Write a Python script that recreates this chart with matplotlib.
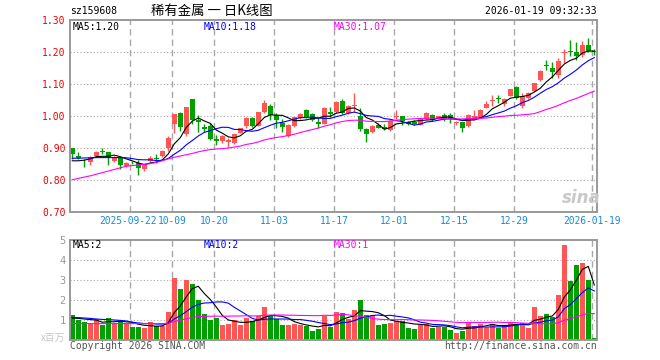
import matplotlib
matplotlib.use('Agg')
import matplotlib.pyplot as plt
import matplotlib.transforms as mtransforms
import numpy as np
import pandas as pd

# daily K data, 2025-09-08 .. 2026-01-19
opens = [0.899, 0.875, 0.857, 0.856, 0.875, 0.892, 0.888, 0.860, 0.870, 0.843,
         0.857, 0.852, 0.833, 0.860, 0.870, 0.874, 0.900, 0.974, 1.008, 0.944,
         1.053, 0.988, 0.966, 0.969, 0.927, 0.922, 0.920, 0.917, 0.946, 0.968,
         0.994, 0.970, 1.011, 1.032, 1.004, 0.977, 0.938, 0.968, 0.995, 1.019,
         1.006, 0.981, 0.975, 1.012, 1.011, 1.048, 1.009, 1.030, 1.000, 0.959,
         0.951, 0.973, 0.966, 0.957, 0.996, 0.999, 0.981, 0.980, 0.973, 0.992,
         1.004, 0.992, 1.002, 1.002, 0.978, 0.980, 0.968, 0.989, 0.996, 1.026,
         1.048, 1.057, 1.038, 1.064, 1.090, 1.030, 1.056, 1.079, 1.112, 1.160,
         1.151, 1.129, 1.198, 1.204, 1.200, 1.190, 1.223, 1.204]
highs = [0.900, 0.887, 0.866, 0.875, 0.890, 0.899, 0.889, 0.876, 0.873, 0.857,
         0.860, 0.861, 0.851, 0.874, 0.882, 0.894, 0.936, 1.007, 1.013, 1.029,
         1.053, 1.002, 0.974, 0.977, 0.940, 0.941, 0.930, 0.944, 0.964, 0.996,
         0.996, 1.013, 1.051, 1.038, 1.008, 0.991, 0.974, 0.998, 1.010, 1.022,
         1.008, 0.993, 1.029, 1.027, 1.046, 1.052, 1.033, 1.072, 1.024, 0.963,
         0.973, 0.977, 0.974, 0.989, 1.018, 1.000, 0.985, 0.988, 0.994, 1.011,
         1.007, 1.001, 1.009, 1.009, 0.985, 0.982, 1.006, 1.020, 1.021, 1.048,
         1.066, 1.066, 1.055, 1.085, 1.093, 1.073, 1.074, 1.104, 1.145, 1.176,
         1.170, 1.181, 1.208, 1.236, 1.231, 1.234, 1.245, 1.210]
lows = [0.865, 0.865, 0.841, 0.848, 0.872, 0.880, 0.848, 0.857, 0.833, 0.841,
        0.850, 0.817, 0.827, 0.857, 0.853, 0.871, 0.890, 0.947, 0.954, 0.937,
        0.975, 0.951, 0.950, 0.925, 0.909, 0.917, 0.904, 0.912, 0.948, 0.964,
        0.966, 0.968, 1.008, 0.988, 0.962, 0.951, 0.935, 0.965, 0.990, 0.995,
        0.985, 0.962, 0.974, 0.996, 1.009, 1.006, 1.006, 1.013, 0.953, 0.920,
        0.947, 0.962, 0.956, 0.954, 0.990, 0.973, 0.971, 0.971, 0.971, 0.990,
        0.983, 0.990, 0.983, 0.978, 0.972, 0.950, 0.966, 0.988, 0.994, 1.024,
        1.030, 1.041, 1.032, 1.062, 1.052, 1.026, 1.054, 1.078, 1.108, 1.143,
        1.119, 1.119, 1.166, 1.186, 1.176, 1.183, 1.199, 1.190]
closes = [0.881, 0.870, 0.855, 0.871, 0.888, 0.886, 0.871, 0.873, 0.846, 0.854,
          0.855, 0.838, 0.849, 0.870, 0.866, 0.891, 0.931, 1.006, 0.967, 1.027,
          0.988, 0.981, 0.960, 0.929, 0.923, 0.938, 0.925, 0.943, 0.962, 0.994,
          0.968, 1.012, 1.041, 1.004, 0.988, 0.965, 0.973, 0.996, 1.007, 0.998,
          0.989, 0.976, 1.026, 1.007, 1.045, 1.009, 1.031, 1.034, 0.958, 0.944,
          0.970, 0.964, 0.958, 0.983, 1.001, 0.984, 0.976, 0.976, 0.992, 1.009,
          0.989, 0.999, 0.994, 0.992, 0.981, 0.963, 1.004, 0.999, 1.019, 1.039,
          1.051, 1.053, 1.052, 1.083, 1.056, 1.061, 1.071, 1.103, 1.142, 1.156,
          1.139, 1.173, 1.201, 1.200, 1.189, 1.221, 1.204, 1.200]
# volume, millions
vols = [1.27, 0.98, 0.88, 0.80, 1.05, 0.73, 1.12, 0.85, 0.97, 0.87,
        0.63, 0.63, 0.58, 0.88, 0.72, 0.72, 1.42, 3.12, 2.53, 2.98,
        2.82, 1.98, 1.32, 1.02, 1.12, 0.73, 0.82, 1.02, 0.73, 1.12,
        0.93, 1.18, 1.67, 1.22, 1.07, 0.75, 0.77, 0.78, 0.75, 0.72,
        0.47, 0.55, 1.18, 0.63, 1.42, 1.37, 1.07, 1.52, 1.98, 1.27,
        1.27, 0.77, 0.82, 0.87, 0.97, 0.97, 0.62, 0.57, 0.77, 0.82,
        0.62, 0.67, 0.67, 0.52, 0.37, 0.47, 0.92, 0.72, 0.82, 0.62,
        0.82, 0.62, 0.72, 0.92, 0.82, 0.87, 0.62, 1.67, 1.22, 1.32,
        1.17, 2.27, 4.77, 2.97, 3.77, 3.87, 3.02, 0.12]

# moving average values before the window is full
ma5_head = [0.860, 0.860, 0.862, 0.866]
ma10_head = [0.868, 0.868, 0.869, 0.869, 0.870, 0.870, 0.870, 0.870, 0.870]
ma30_head = [0.801, 0.805, 0.809, 0.813, 0.818, 0.823, 0.828, 0.833, 0.838, 0.843,
             0.845, 0.847, 0.849, 0.851, 0.855, 0.860, 0.866, 0.871, 0.875, 0.879,
             0.883, 0.888, 0.892, 0.895, 0.897, 0.898, 0.900, 0.903, 0.906]
vma5_head = [1.10, 1.08, 1.05, 1.02]
vma10_head = [1.13, 1.12, 1.10, 1.08, 1.05, 1.03, 1.02, 1.00, 0.98]
vma30_head = [0.82, 0.82, 0.82, 0.82, 0.82, 0.82, 0.82, 0.82, 0.82, 0.82,
              0.82, 0.82, 0.82, 0.82, 0.82, 0.82, 0.84, 0.92, 0.99, 1.06,
              1.13, 1.17, 1.18, 1.19, 1.19, 1.19, 1.19, 1.20, 1.20]

date_idx = [10, 17, 24, 34, 44, 54, 64, 74, 87]
date_labels = ['2025-09-22', '10-09', '10-20', '11-03', '11-17',
               '12-01', '12-15', '12-29', '2026-01-19']
price_ticks = [0.70, 0.80, 0.90, 1.00, 1.10, 1.20, 1.30]
vol_ticks = [1, 2, 3, 4, 5]

RED = '#ff5555'
GREEN = '#00a000'
GRID = '#a8a8a8'
FRAME = '#999999'
MONO = 'DejaVu Sans Mono'
CJK = ['Noto Sans CJK SC', 'DejaVu Sans']


def moving(vals, n, head):
    s = pd.Series(vals, dtype=float).rolling(n).mean().values
    s[:n - 1] = head
    return s


o = np.array(opens)
c = np.array(closes)
x = np.arange(len(c))
colors = np.where(c >= o, RED, GREEN)

W, H = 660, 360
fig = plt.figure(figsize=(6.6, 3.6), dpi=100)
ax = fig.add_axes([70 / W, 1 - 212 / H, 527 / W, 192 / H])
axv = fig.add_axes([70 / W, 1 - 340 / H, 527 / W, 100 / H])

xmin, xmax = -0.38, 87.45
line_pos = [i - 0.33 for i in date_idx]

# candles
ax.vlines(x, lows, highs, colors=colors, linewidth=1)
ax.bar(x, np.maximum(np.abs(c - o), 0.0025), bottom=np.minimum(o, c),
       width=0.8, color=colors, linewidth=0)
ax.plot(x, moving(closes, 5, ma5_head), color='black', lw=0.8)
ax.plot(x, moving(closes, 10, ma10_head), color='#0000ff', lw=0.8)
ax.plot(x, moving(closes, 30, ma30_head), color='#ff00ff', lw=0.8)

# volume
axv.bar(x, vols, width=0.8, color=colors, linewidth=0)
axv.plot(x, moving(vols, 5, vma5_head), color='black', lw=0.8)
axv.plot(x, moving(vols, 10, vma10_head), color='#0000ff', lw=0.8)
axv.plot(x, moving(vols, 30, vma30_head), color='#ff00ff', lw=0.8)

for a, ylo, yhi, grid_y in [(ax, 0.70, 1.30, price_ticks[1:-1]),
                            (axv, 0, 5, vol_ticks[:-1])]:
    a.set_xlim(xmin, xmax)
    a.set_ylim(ylo, yhi)
    for gy in grid_y:
        a.axhline(gy, color=GRID, lw=0.8, ls=(0, (1, 2)), zorder=0)
    for p in line_pos:
        a.axvline(p, color=GRID, lw=1.0, ls=(0, (4.5, 3)), zorder=0)
    for s in a.spines.values():
        s.set_color(FRAME)
        s.set_linewidth(1.4)
    a.tick_params(length=0)
    a.set_xticks([])

ax.set_yticks(price_ticks)
ax.set_yticklabels(['%.2f' % t for t in price_ticks], color='#ee0000',
                   fontsize=7, family=MONO)
ax.tick_params(axis='y', pad=3)

# date labels under the price panel; the first one is nudged left a little
# so it only touches the next one, as in the original
trans = mtransforms.blended_transform_factory(ax.transData, fig.transFigure)
for k, (p, lab) in enumerate(zip(line_pos, date_labels)):
    shift = -0.35 if k == 0 else 0.0
    ax.text(p + shift, 1 - 221 / H, lab, transform=trans, ha='center',
            va='center', color='#1a8ad8', fontsize=6.9, family=MONO)

axv.set_yticks(vol_ticks)
axv.set_yticklabels([str(t) for t in vol_ticks], color=FRAME, fontsize=7.5,
                    family=MONO)
axv.tick_params(axis='y', pad=3)


def put(px, py, s, **kw):
    kw.setdefault('family', MONO)
    kw.setdefault('fontsize', 7)
    kw.setdefault('va', 'center')
    fig.text(px / W, 1 - py / H, s, **kw)


put(70, 11, 'sz159608')
put(151, 11, '稀有金属 一 日K线图', family=CJK, fontsize=9.6)
put(597, 11, '2026-01-19 09:32:33', ha='right')
put(73, 27, 'MA5:1.20', color='black')
put(204, 27, 'MA10:1.18', color='#0000ff')
put(334, 27, 'MA30:1.07', color='#ff00ff')
put(73, 245, 'MA5:2', color='black')
put(204, 245, 'MA10:2', color='#0000ff')
put(334, 245, 'MA30:1', color='#ff00ff')
put(65, 338, 'x百万', ha='right', color='#c8c8c8', family=CJK, fontsize=7)
put(70, 346, 'Copyright 2026 SINA.COM', color='#555555')
put(597, 346, 'http://finance.sina.com.cn', ha='right', color='#555555')
put(581, 198, 'sina', ha='center', color='#c8c8c8', fontsize=12,
    family='DejaVu Sans', style='italic', weight='bold')

fig.savefig('out.png', dpi=100)
